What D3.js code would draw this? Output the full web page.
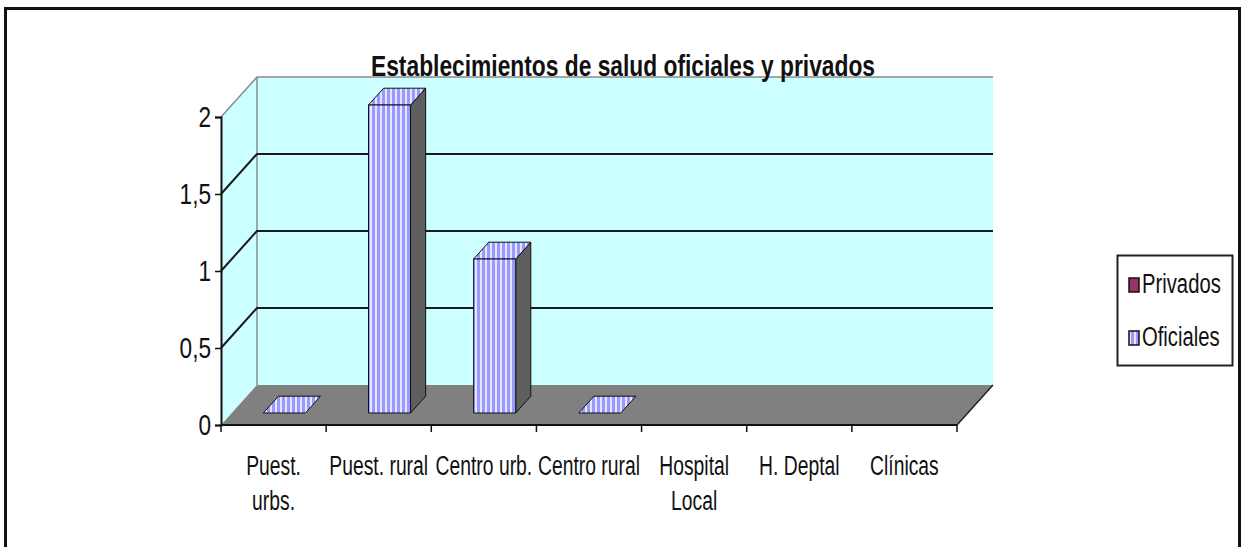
<!DOCTYPE html>
<html>
<head>
<meta charset="utf-8">
<script src="https://cdn.jsdelivr.net/npm/d3@7"></script>
<style>
  body { margin: 0; background: #fff; }
  svg text { font-family: "Liberation Sans", Arial, sans-serif; fill: #111; }
</style>
</head>
<body>
<div id="chart"></div>
<script>
// Establecimientos de salud oficiales y privados

// Data
const categories = ['Puest. urbs.', 'Puest. rural', 'Centro urb.', 'Centro rural', 'Hospital Local', 'H. Deptal', 'Clínicas']
const categoryLines = [['Puest.', 'urbs.'], ['Puest. rural'], ['Centro urb.'], ['Centro rural'], ['Hospital', 'Local'], ['H. Deptal'], ['Clínicas']]
const oficiales = [0, 2, 1, 0, null, null, null]
const privados = [null, null, null, null, null, null, null]
const seriesNames = ['Privados', 'Oficiales']
const yTicks = [0, 0.5, 1, 1.5, 2]

// Basic variables
let chart = {
  width: 1245,
  height: 547,
  wallColor: '#ccffff',
  floorColor: '#808080',
  barColor: '#9999ff',
  privColor: '#993366',
  depthX: 36,
  depthY: 40,
}

chart.x = d3.scaleBand().domain(categories).range([221, 957])
chart.y = d3.scaleLinear().domain([0, 2]).range([425, 117])

// projects a point (screen x on the front plane, value, depth 0..1)
function proj(x, v, z) {
  return [x + z * chart.depthX, chart.y(v) - z * chart.depthY]
}
function pts(list) {
  return list.map(p => p.join(',')).join(' ')
}

chart.svg = d3.select('#chart')
  .append('svg')
  .attr('width', chart.width)
  .attr('height', chart.height)

// stripes
let defs = chart.svg.append('defs')
let pat = defs.append('pattern')
  .attr('id', 'stripes')
  .attr('patternUnits', 'userSpaceOnUse')
  .attr('width', 5).attr('height', 10)
pat.append('rect').attr('width', 5).attr('height', 10).attr('fill', chart.barColor)
pat.append('rect').attr('width', 2).attr('height', 10).attr('fill', '#e6e6ff')

// outer frame
chart.svg.append('rect')
  .attr('x', 5.5).attr('y', 8.5)
  .attr('width', 1234).attr('height', 600)
  .attr('fill', '#fff')
  .attr('stroke', '#111')
  .attr('stroke-width', 3)

const x0 = chart.x.range()[0]
const x1 = chart.x.range()[1]

// walls
chart.svg.append('polygon')
  .attr('points', pts([proj(x0, 0, 0), proj(x0, 2, 0), proj(x0, 2, 1), proj(x0, 0, 1)]))
  .attr('fill', chart.wallColor)
chart.svg.append('polygon')
  .attr('points', pts([proj(x0, 0, 1), proj(x0, 2, 1), proj(x1, 2, 1), proj(x1, 0, 1)]))
  .attr('fill', chart.wallColor)

// wall edges (grey)
chart.svg.append('polyline')
  .attr('points', pts([proj(x0, 2, 0), proj(x0, 2, 1), proj(x1, 2, 1)]))
  .attr('fill', 'none').attr('stroke', '#8a8a8a').attr('stroke-width', 1.5)
chart.svg.append('line')
  .attr('x1', proj(x0, 2, 1)[0]).attr('y1', proj(x0, 2, 1)[1])
  .attr('x2', proj(x0, 0, 1)[0]).attr('y2', proj(x0, 0, 1)[1])
  .attr('stroke', '#8a8a8a').attr('stroke-width', 1.5)

// gridlines
chart.svg.selectAll('.grid')
  .data(yTicks.filter(d => d > 0 && d < 2))
  .enter()
  .append('polyline')
  .attr('class', 'grid')
  .attr('points', d => pts([proj(x0, d, 0), proj(x0, d, 1), proj(x1, d, 1)]))
  .attr('fill', 'none')
  .attr('stroke', '#1a1a1a')
  .attr('stroke-width', 2)

// floor
chart.svg.append('polygon')
  .attr('points', pts([proj(x0, 0, 0), proj(x0, 0, 1), proj(x1, 0, 1), proj(x1, 0, 0)]))
  .attr('fill', chart.floorColor)
chart.svg.append('line')
  .attr('x1', proj(x1, 0, 0)[0]).attr('y1', proj(x1, 0, 0)[1])
  .attr('x2', proj(x1, 0, 1)[0]).attr('y2', proj(x1, 0, 1)[1])
  .attr('stroke', '#222').attr('stroke-width', 1.5)

// bars
const barW = chart.x.bandwidth() * 0.4
const z0 = 0.3, z1 = 0.72
let barData = oficiales.map((v, i) => ({cat: categories[i], v: v})).filter(d => d.v !== null)

let bars = chart.svg.selectAll('.bar')
  .data(barData)
  .enter()
  .append('g')
  .attr('class', 'bar')

bars.each(function(d) {
  let g = d3.select(this)
  let l = chart.x(d.cat) + (chart.x.bandwidth() - barW) / 2
  let r = l + barW
  if (d.v > 0) {
    g.append('polygon')
      .attr('points', pts([proj(r, 0, z0), proj(r, d.v, z0), proj(r, d.v, z1), proj(r, 0, z1)]))
      .attr('fill', '#5e5e5e').attr('stroke', '#111').attr('stroke-width', 1)
  }
  g.append('polygon')
    .attr('points', pts([proj(l, d.v, z0), proj(r, d.v, z0), proj(r, d.v, z1), proj(l, d.v, z1)]))
    .attr('fill', 'url(#stripes)').attr('stroke', '#111').attr('stroke-width', 1)
  if (d.v > 0) {
    g.append('polygon')
      .attr('points', pts([proj(l, 0, z0), proj(r, 0, z0), proj(r, d.v, z0), proj(l, d.v, z0)]))
      .attr('fill', 'url(#stripes)').attr('stroke', '#111').attr('stroke-width', 1)
  }
})

// y axis
let yAxis = d3.axisLeft(chart.y)
  .tickValues(yTicks)
  .tickSize(6)
  .tickPadding(6)
  .tickFormat(d => String(d).replace('.', ','))
let yG = chart.svg.append('g')
  .attr('transform', `translate(${x0},0)`)
  .call(yAxis)
yG.select('.domain').attr('stroke', '#111').attr('stroke-width', 2)
yG.selectAll('.tick line').attr('stroke', '#111').attr('stroke-width', 1.5)
yG.selectAll('.tick text')
  .attr('font-size', 29)
  .attr('fill', '#111')
  .attr('x', -10 / 0.78)
  .attr('transform', 'scale(0.78,1)')

// x axis
chart.svg.append('line')
  .attr('x1', x0).attr('y1', chart.y(0))
  .attr('x2', x1).attr('y2', chart.y(0))
  .attr('stroke', '#111').attr('stroke-width', 2)
let edges = categories.map(c => chart.x(c)).concat([x1])
chart.svg.selectAll('.xtick')
  .data(edges)
  .enter()
  .append('line')
  .attr('x1', d => d).attr('x2', d => d)
  .attr('y1', chart.y(0)).attr('y2', chart.y(0) + 7)
  .attr('stroke', '#111').attr('stroke-width', 1.5)

let xLabels = chart.svg.selectAll('.xlabel')
  .data(categories)
  .enter()
  .append('text')
  .attr('class', 'xlabel')
  .attr('text-anchor', 'middle')
  .attr('font-size', 28)
  .attr('transform', d => `translate(${chart.x(d) + chart.x.bandwidth() / 2},475) scale(0.69,1)`)
xLabels.each(function(d, i) {
  let t = d3.select(this)
  categoryLines[i].forEach((line, k) => {
    t.append('tspan')
      .attr('x', 0)
      .attr('y', k * 35)
      .text(line)
  })
})

// title
chart.svg.append('text')
  .attr('x', 623)
  .attr('y', 76)
  .attr('text-anchor', 'middle')
  .attr('font-size', 30)
  .attr('font-weight', 'bold')
  .attr('textLength', 504)
  .attr('lengthAdjust', 'spacingAndGlyphs')
  .text('Establecimientos de salud oficiales y privados')

// legend
let legend = chart.svg.append('g')
legend.append('rect')
  .attr('x', 1117.5).attr('y', 255.5)
  .attr('width', 115).attr('height', 110)
  .attr('fill', '#fff').attr('stroke', '#222').attr('stroke-width', 2)
let items = legend.selectAll('.item')
  .data(seriesNames)
  .enter()
  .append('g')
  .attr('transform', (d, i) => `translate(1129, ${278 + i * 53})`)
items.append('rect')
  .attr('width', 10).attr('height', 14)
  .attr('fill', (d, i) => i === 0 ? chart.privColor : 'url(#stripes)')
  .attr('stroke', '#111').attr('stroke-width', 1.5)
items.append('text')
  .attr('transform', 'translate(13,15) scale(0.75,1)')
  .attr('font-size', 27)
  .text(d => d)
</script>
</body>
</html>
